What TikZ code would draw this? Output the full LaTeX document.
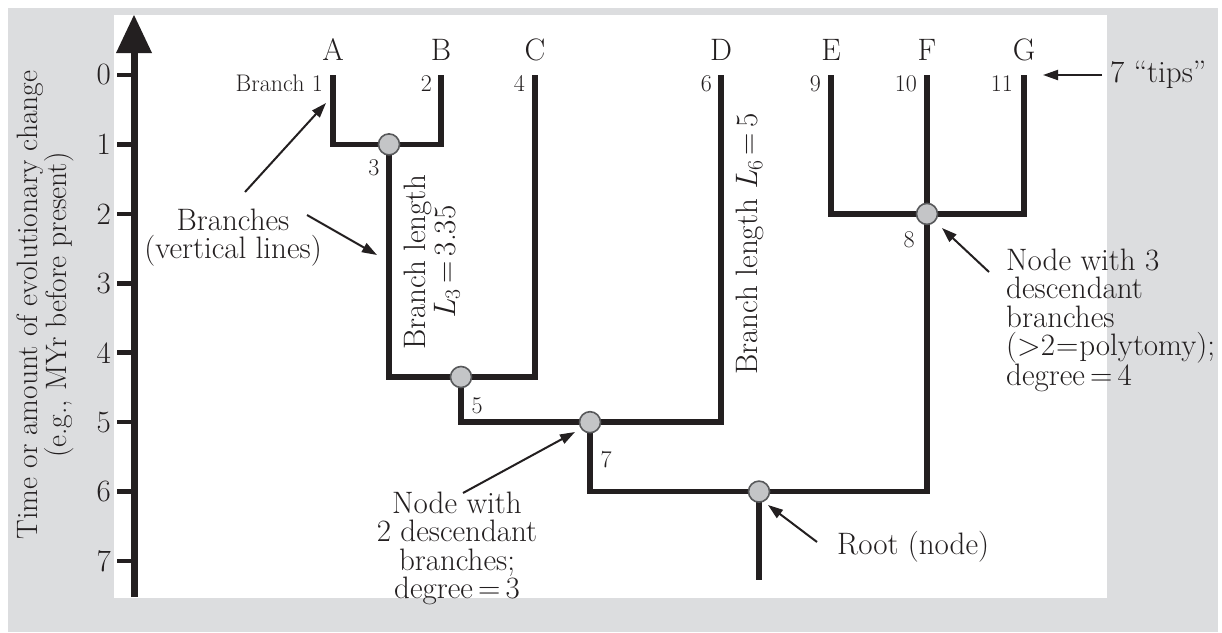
\documentclass[tikz,border=0pt]{standalone}
\usepackage{fix-cm}
\usetikzlibrary{arrows.meta}
\definecolor{bgrey}{RGB}{220,221,223}
\definecolor{ink}{RGB}{35,31,32}
\definecolor{nodefill}{RGB}{196,197,199}
\definecolor{nodeedge}{RGB}{88,89,91}
\begin{document}
\begin{tikzpicture}[x=1pt,y=-1pt,
  tree/.style={line width=5.5pt, draw=ink, line join=miter},
  tnode/.style={circle, fill=nodefill, draw=nodeedge, line width=1.6pt, minimum size=21pt, inner sep=0pt},
  big/.style={font=\fontsize{31}{28.5}\selectfont, inner sep=0pt, text=ink},
  small/.style={font=\fontsize{24}{26}\selectfont, inner sep=0pt, text=ink},
  annot/.style={line width=2pt, draw=ink, -{Triangle[length=15pt,width=10pt]}},
  tick/.style={line width=4.5pt, draw=ink},
]
\useasboundingbox (0,0) rectangle (1222,632);
\fill[white] (0,0) rectangle (1222,632);
\fill[bgrey] (8,8) rectangle (1218,632);
\fill[white] (114,15) rectangle (1107,598);

% axis
\coordinate (axtop) at (134,50);
\coordinate (axbot) at (134,597);
\draw[line width=7pt, draw=ink] (axbot) -- (axtop);
\fill[ink] (134,15) -- (152,53) -- (116,53) -- cycle;
\foreach \i in {0,...,7}{
  \coordinate (tk\i) at (117,75+69.43*\i);
  \coordinate (tkr\i) at (134,75+69.43*\i);
  \draw[tick] (tk\i) -- (tkr\i);
  \node[big, anchor=east] (tl\i) at (111,75+69.43*\i) {\i};
}
\node[big, rotate=90, align=center, font=\fontsize{29.5}{28}\selectfont] (axlabel) at (45,305)
  {Time or amount of evolutionary change\\(e.g., MYr before present)};

% tree coordinates
\coordinate (tA) at (333,75);
\coordinate (tB) at (441,75);
\coordinate (tC) at (535,75);
\coordinate (tD) at (721,75);
\coordinate (tE) at (831,75);
\coordinate (tF) at (927,75);
\coordinate (tG) at (1024,75);
\coordinate (c3) at (389,144.4);
\coordinate (c5) at (461,377);
\coordinate (c7) at (590,422.2);
\coordinate (c8) at (927,213.9);
\coordinate (croot) at (759,491.6);
\coordinate (rootend) at (759,580);

\draw[tree] (tA) |- (c3) -| (tB);
\draw[tree] (c3) |- (c5) -| (tC);
\draw[tree] (c5) |- (c7) -| (tD);
\draw[tree] (c7) |- (croot) -| (tF);
\draw[tree] (tE) |- (c8) -| (tG);
\draw[tree] (croot) -- (rootend);

\node[tnode] (n3) at (c3) {};
\node[tnode] (n5) at (c5) {};
\node[tnode] (n7) at (c7) {};
\node[tnode] (n8) at (c8) {};
\node[tnode] (nroot) at (croot) {};

% tip letters
\node[big, anchor=base] (lA) at (333,60) {A};
\node[big, anchor=base] (lB) at (441,60) {B};
\node[big, anchor=base] (lC) at (535,60) {C};
\node[big, anchor=base] (lD) at (721,60) {D};
\node[big, anchor=base] (lE) at (831,60) {E};
\node[big, anchor=base] (lF) at (927,60) {F};
\node[big, anchor=base] (lG) at (1024,60) {G};

% branch numbers
\node[small, anchor=base east] (b1) at (323,91) {Branch 1};
\node[small, anchor=base east] (b2) at (432,91) {2};
\node[small, anchor=base east] (b4) at (525,91) {4};
\node[small, anchor=base east] (b6) at (712,91) {6};
\node[small, anchor=base east] (b9) at (821,91) {9};
\node[small, anchor=base east] (b10) at (917,91) {10};
\node[small, anchor=base east] (b11) at (1013,91) {11};
\node[small, anchor=base] (b3) at (374,175) {3};
\node[small, anchor=base] (b5) at (477,413) {5};
\node[small, anchor=base] (b7) at (606,467) {7};
\node[small, anchor=base] (b8) at (909,247) {8};

% rotated branch length labels
\node[big, rotate=90, align=center, font=\fontsize{31}{30}\selectfont] (bl3) at (432,262)
  {Branch length\\\textit{L}\textsubscript{3}\,=\,3.35};
\node[big, rotate=90] (bl6) at (750,244)
  {Branch length \textit{L}\textsubscript{6}\,=\,5};

% annotations
\node[big, align=center, anchor=north] (brtxt) at (233,208.5) {Branches\\(vertical lines)};
\node[big, align=center, anchor=north] (n2txt) at (457,491.5) {Node with\\2 descendant\\branches;\\degree\,=\,3};
\node[big, align=left, anchor=north west] (n3txt) at (1006,248.5) {Node with 3\\descendant\\branches\\(>2\kern1pt=\kern1pt polytomy);\\degree\,=\,4};
\node[big, anchor=base west] (roottxt) at (837,554) {Root (node)};
\node[big, anchor=base west] (tipstxt) at (1110,82) {7 “tips”};

\coordinate (a1s) at (245,192); \coordinate (a1e) at (326,103);
\coordinate (a2s) at (307,215); \coordinate (a2e) at (377,255);
\coordinate (a3s) at (463,493); \coordinate (a3e) at (575,432);
\coordinate (a4s) at (989,272); \coordinate (a4e) at (942,228);
\coordinate (a5s) at (817,542); \coordinate (a5e) at (768,505);
\coordinate (a6s) at (1102,75); \coordinate (a6e) at (1043,75);
\draw[annot] (a1s) -- (a1e);
\draw[annot] (a2s) -- (a2e);
\draw[annot] (a3s) -- (a3e);
\draw[annot] (a4s) -- (a4e);
\draw[annot] (a5s) -- (a5e);
\draw[annot] (a6s) -- (a6e);
\end{tikzpicture}
\end{document}
